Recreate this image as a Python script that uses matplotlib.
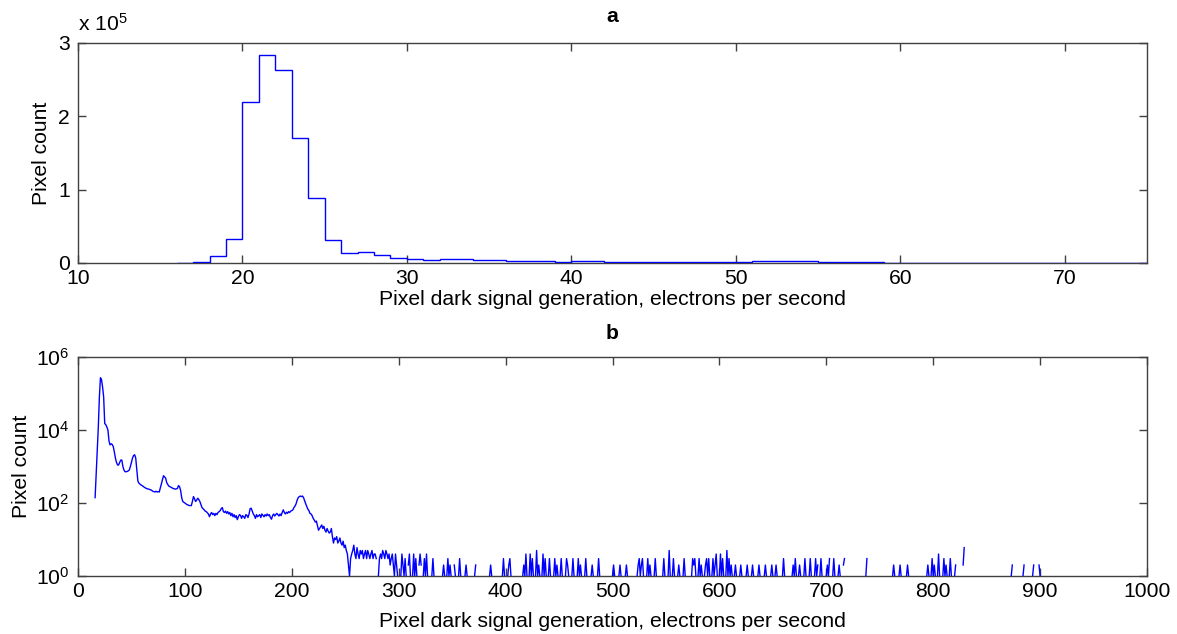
import numpy as np
import matplotlib
matplotlib.use("Agg")
import matplotlib.pyplot as plt
from matplotlib.ticker import FuncFormatter, FixedLocator, NullLocator

plt.rcParams['font.family'] = ['Liberation Sans', 'DejaVu Sans']
plt.rcParams['mathtext.default'] = 'regular'

# ---------------- Panel a: linear histogram (bin width 1 e-/s) ----------------
hist_edges_start = 16
hist_counts = [500, 2000, 10000, 33000, 219000, 283000, 263000, 170000, 89000, 31000,
               14000, 15000, 11000, 7000, 5000, 4500, 5500, 5500, 4500, 3500,
               3000, 2500, 2500, 2000, 2200, 2500, 2000, 1800, 1500, 1500,
               1400, 1300, 1300, 1400, 1700, 2200, 2500, 2800, 2600, 1800,
               1000, 800, 700, 600, 500, 450, 420, 400, 380, 360,
               340, 320, 300, 290, 280, 270, 260, 250, 240]

# ---------------- Panel b: log histogram ----------------
dense_start = 16
dense_counts = [
    140, 600, 2500, 12000, 80000, 270000, 240000, 150000, 80000, 15000,
    14000, 12000, 10000, 5000, 3900, 4200, 4000, 3500, 2500, 1700,
    1300, 1100, 1100, 1300, 1500, 1500, 1000, 800, 720, 720,
    730, 760, 800, 1000, 1300, 1700, 2000, 2100, 1700, 800,
    400, 350, 330, 310, 300, 285, 270, 260, 250, 245,
    240, 235, 230, 220, 210, 205, 200, 210, 200, 205,
    200, 260, 330, 450, 560, 520, 480, 360, 320, 290,
    280, 270, 260, 250, 245, 240, 245, 250, 300, 280,
    220, 140, 110, 105, 100, 95, 90, 88, 85, 85,
    85, 110, 150, 130, 110, 120, 135, 125, 110, 90,
    75, 70, 65, 60, 58, 54, 50, 42, 50, 55,
    48, 52, 45, 52, 48, 55, 58, 62, 70, 75,
    58, 55, 60, 52, 58, 50, 55, 45, 52, 42,
    48, 40, 45, 35, 42, 48, 46, 38, 45, 42,
    38, 48, 46, 40, 50, 70, 72, 60, 50, 45,
    38, 48, 42, 45, 48, 40, 50, 46, 42, 48,
    44, 50, 45, 48, 40, 36, 45, 50, 44, 48,
    52, 48, 44, 50, 45, 55, 65, 55, 50, 56,
    52, 58, 55, 60, 62, 65, 75, 82, 95, 120,
    140, 150, 155, 150, 155, 140, 115, 95, 80, 68,
    62, 52, 50, 45, 38, 34, 30, 32, 24, 18,
    20, 22, 25, 20, 23, 18, 16, 20, 17, 15,
    16, 20, 12, 8, 11, 10, 12, 8, 9, 11,
    8, 7, 9, 6, 7, 5, 4, 2, 1, 3,
    4, 5, 7, 4, 3, 6, 4, 3, 5, 4,
    5, 3, 4, 5, 3, 5, 4, 3, 4, 5,
    3, 4, 4, 3, 0, 1, 3, 4, 3, 5,
    4, 3, 5, 4, 3, 4, 2, 3, 4, 2,
    1, 4, 2, 1]

sparse_starts = [302, 309, 313, 319, 323, 331, 341, 345, 352, 356, 362, 371, 385,
                 397, 402, 416, 422, 428, 434, 440, 445, 451, 456, 462, 467, 474,
                 480, 486, 500, 506, 512, 523, 532, 539, 547, 552, 556, 561, 566,
                 574, 580, 586, 593, 600, 606, 614, 619, 625, 630, 636, 642, 648,
                 652, 659, 668, 674, 679, 684, 689, 694, 700, 706, 711, 716, 737,
                 762, 768, 775, 794, 798, 804, 809, 815, 820, 828, 873, 884, 893, 899]
sparse_counts = [[1, 4, 2, 1, 3, 1], [2, 4, 1], [1, 4, 1, 3, 1], [2, 4, 2], [1, 3, 1, 4, 1],
                 [1, 3, 1], [1, 2, 1], [1, 3, 1, 2, 1], [2, 1], [1, 3, 1], [1, 2, 1], [1, 2],
                 [1, 2, 1], [1, 3, 1], [1, 2, 3, 1], [1, 2, 1, 4, 1], [1, 4, 1, 3, 1],
                 [1, 5, 1, 2, 1], [1, 4, 1, 3, 1], [1, 3, 1], [1, 3, 1, 2, 1], [1, 3, 1],
                 [1, 3, 2, 1], [1, 3, 1], [1, 3, 1, 2, 1], [1, 3, 1], [1, 2, 1], [1, 3, 1],
                 [1, 2, 1], [1, 2, 1], [1, 2, 1], [1, 2, 3, 1, 2, 3, 1], [1, 3, 1, 2, 1],
                 [1, 3, 1], [1, 3, 1], [1, 5, 1], [1, 3, 1], [1, 2, 1], [1, 3, 1],
                 [1, 3, 2, 3, 1], [1, 3, 1, 2, 1], [1, 2, 3, 1, 3, 1], [1, 3, 1, 2, 4, 1],
                 [1, 4, 1, 3, 1], [1, 5, 1, 3, 1, 2, 1], [1, 2, 1], [1, 2, 1], [1, 2, 1],
                 [1, 2, 1], [1, 2, 1], [1, 2, 1], [1, 2, 1], [1, 2, 1], [1, 3, 1],
                 [1, 2, 1, 3, 1], [1, 2, 1], [1, 3, 1], [1, 3, 1], [1, 3, 1, 2], [1, 3, 1],
                 [1, 2, 1, 3], [1, 3, 1], [1, 2, 1], [2, 3], [1, 3], [1, 2, 1], [1, 2, 1],
                 [1, 2, 1], [1, 2, 1], [1, 3, 1, 2, 1], [1, 4, 1], [1, 3, 1, 2, 1],
                 [1, 3, 1], [1, 2], [2, 6], [1, 2], [1, 2], [1, 2], [2, 1]]

x_ticks_a = [10, 20, 30, 40, 50, 60, 70]
y_ticks_a = [0, 1e5, 2e5, 3e5]
x_ticks_b = list(range(0, 1001, 100))
y_ticks_b = [1e0, 1e2, 1e4, 1e6]
xlabel = 'Pixel dark signal generation, electrons per second'
ylabel = 'Pixel count'

# assemble panel b series (zero counts are left as gaps on the log axis)
rates = np.arange(dense_start, 1000)
counts = np.zeros(len(rates))
counts[:len(dense_counts)] = dense_counts
for s, c in zip(sparse_starts, sparse_counts):
    counts[s - dense_start:s - dense_start + len(c)] = c
counts_plot = np.where(counts > 0, counts, np.nan)

edges = np.arange(hist_edges_start, hist_edges_start + len(hist_counts) + 1)

W, H = 1177, 634
fig = plt.figure(figsize=(W / 100, H / 100), dpi=100)
fs = 15.2
spine_col = '#404040'

def style(ax):
    for sp in ax.spines.values():
        sp.set_color(spine_col)
        sp.set_linewidth(1.0)
    ax.tick_params(direction='in', length=5.5, width=1.0, color=spine_col,
                   labelsize=fs, top=True, right=True)
    ax.tick_params(axis='x', pad=4)
    ax.tick_params(axis='y', pad=6)

ax1 = fig.add_axes([78 / W, 1 - 263 / H, (1147 - 78) / W, (263 - 43) / H])
ax1.stairs(hist_counts, edges, baseline=None, color=(0, 0, 1), linewidth=1.0,
           zorder=3)
ax1.set_xlim(10, 75)
ax1.set_ylim(0, 3e5)
ax1.set_xticks(x_ticks_a)
ax1.set_yticks(y_ticks_a)
ax1.yaxis.set_major_formatter(FuncFormatter(lambda v, p: f'{v / 1e5:g}'))
style(ax1)
ax1.set_xlabel(xlabel, fontsize=fs, labelpad=2)
ax1.set_ylabel(ylabel, fontsize=fs, labelpad=5)
ax1.set_title('a', fontsize=fs, fontweight='bold', pad=15)
ax1.text(0.0, 1.035, r'x 10$^{5}$', transform=ax1.transAxes, fontsize=fs,
         ha='left', va='bottom')

ax2 = fig.add_axes([78 / W, 1 - 576 / H, (1147 - 78) / W, (576 - 357) / H])
ax2.plot(rates, counts_plot, color=(0, 0, 1), linewidth=1.0, zorder=3)
ax2.set_yscale('log', nonpositive='mask')
ax2.set_xlim(0, 1000)
ax2.set_ylim(1, 1e6)
ax2.set_xticks(x_ticks_b)
ax2.yaxis.set_major_locator(FixedLocator(y_ticks_b))
ax2.yaxis.set_minor_locator(NullLocator())
ax2.yaxis.set_major_formatter(FuncFormatter(lambda v, p: r'$10^{%d}$' % round(np.log10(v))))
style(ax2)
ax2.set_xlabel(xlabel, fontsize=fs, labelpad=8)
ax2.set_ylabel(ylabel, fontsize=fs, labelpad=4)
ax2.set_title('b', fontsize=fs, fontweight='bold', pad=13)

fig.savefig('out.png', dpi=100, facecolor='white')
